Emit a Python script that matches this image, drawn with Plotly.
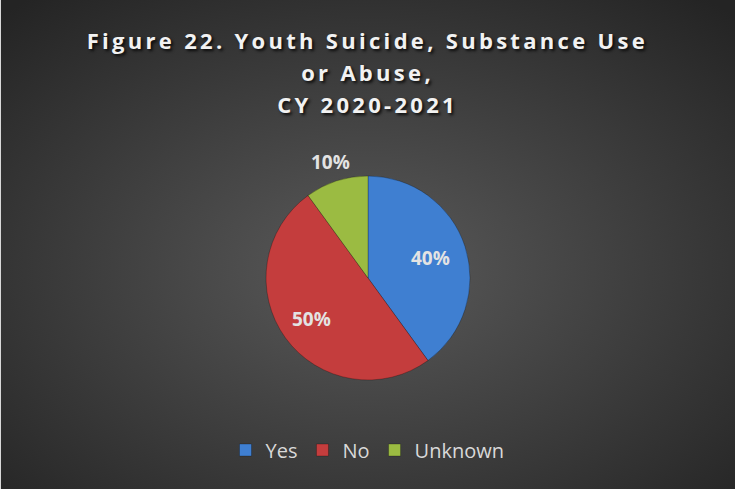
import base64
import math
import plotly.graph_objects as go

# Share of youth suicides with substance use or abuse, CY 2020-2021
categories = ["Yes", "No", "Unknown"]
shares = [40, 50, 10]
slice_colors = ["#3f7fd1", "#c43d3d", "#9bbb42"]
label_radius = [0.64, 0.68, 1.2]  # label distance from centre, as a fraction of the radius

title_lines = ["Figure 22. Youth Suicide, Substance Use", "or Abuse,", "CY 2020-2021"]

W, H = 735, 489

# Dark radial backdrop
bg_svg = (
    f'<svg xmlns="http://www.w3.org/2000/svg" width="{W}" height="{H}">'
    '<defs><radialGradient id="g" cx="0.5" cy="0.55" r="0.72">'
    '<stop offset="0" stop-color="#5a5a5a"/>'
    '<stop offset="1" stop-color="#242424"/>'
    '</radialGradient></defs>'
    f'<rect width="{W}" height="{H}" fill="url(#g)"/></svg>'
)
bg_uri = "data:image/svg+xml;base64," + base64.b64encode(bg_svg.encode()).decode()

cx, cy, r = 368, 278, 102  # pie centre and radius in pixels

fig = go.Figure(
    go.Pie(
        labels=categories,
        values=shares,
        sort=False,
        direction="clockwise",
        rotation=0,
        marker=dict(colors=slice_colors, line=dict(color="rgba(0,0,0,0.25)", width=1)),
        textinfo="none",
        hoverinfo="label+percent",
        domain=dict(
            x=[(cx - r) / W, (cx + r) / W],
            y=[(H - cy - r) / H, (H - cy + r) / H],
        ),
    )
)

annotations = []

# Title, one line per annotation for even line spacing
for i, line in enumerate(title_lines):
    annotations.append(dict(
        text=line, xref="paper", yref="paper", x=0.5, xanchor="center",
        y=(H - (40 + 32 * i)) / H, yanchor="middle", showarrow=False,
        font=dict(family="Open Sans", size=22, color="#f2f2f2", weight="bold",
                  shadow="2px 2px 3px rgba(0,0,0,0.8)"),
    ))

# Percentage labels placed at each slice's mid-angle
total = sum(shares)
start = 0.0
for v, k in zip(shares, label_radius):
    mid = (start + v / 2) / total * 2 * math.pi
    start += v
    px = cx + k * r * math.sin(mid)
    py = cy - k * r * math.cos(mid)
    annotations.append(dict(
        text=f"{round(v / total * 100)}%", xref="paper", yref="paper",
        x=px / W, y=(H - py) / H, xanchor="center", yanchor="middle", showarrow=False,
        font=dict(family="Open Sans", size=19, color="#e3e3e3", weight="bold"),
    ))

fig.update_layout(
    width=W,
    height=H,
    margin=dict(l=0, r=0, t=0, b=0),
    paper_bgcolor="#333333",
    images=[
        dict(
            source=bg_uri, xref="paper", yref="paper", x=0, y=1,
            sizex=1, sizey=1, sizing="stretch", layer="below",
        )
    ],
    annotations=annotations,
    showlegend=True,
    legend=dict(
        orientation="h",
        x=0.5,
        xanchor="center",
        y=(H - 450) / H,
        yanchor="middle",
        font=dict(family="Open Sans", size=20, color="#d9d9d9"),
        bgcolor="rgba(0,0,0,0)",
        itemwidth=30,
    ),
    shapes=[
        dict(type="line", xref="paper", yref="paper", x0=0, x1=0, y0=0, y1=1,
             line=dict(color="#d8d8d8", width=2)),
    ],
)

# Widen the title lettering
spacing_js = """
document.querySelectorAll('.annotation').forEach(function (a, i) {
  if (i < 3) {
    a.querySelectorAll('text').forEach(function (t) { t.style.letterSpacing = '3.3px'; });
  }
});
"""

fig.write_html("out.html", post_script=spacing_js)
